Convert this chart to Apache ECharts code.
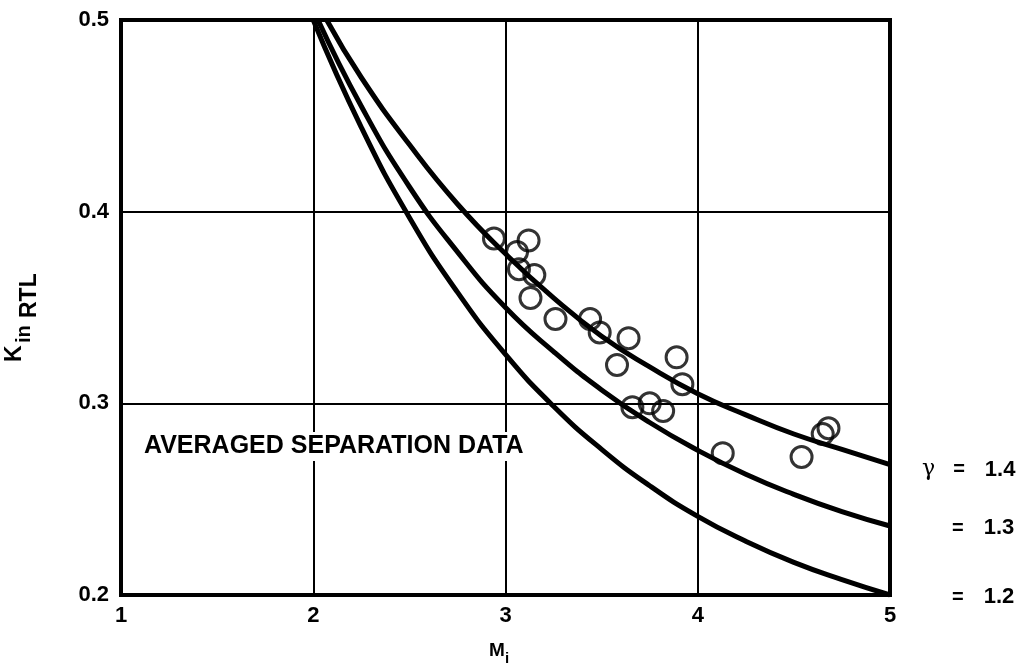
<!DOCTYPE html>
<html>
<head>
<meta charset="utf-8">
<script src="https://cdn.jsdelivr.net/npm/echarts@6/dist/echarts.min.js"></script>
<style>
  html, body { margin: 0; background: #fff; }
  #chart { width: 1022px; height: 672px; }
</style>
</head>
<body>
<div id="chart"></div>
<script>
// curves K_in_RTL vs M_i, one per gamma
const gamma14Mach = [2.07, 2.25, 2.5, 2.75, 3.0, 3.25, 3.5, 3.75, 4.0, 4.25, 4.5, 4.75, 5.0];
const gamma14K = [0.5, 0.47, 0.435, 0.404, 0.378, 0.355, 0.335, 0.319, 0.305, 0.294, 0.284, 0.276, 0.268];
const gamma13Mach = [2.025, 2.25, 2.5, 2.75, 3.0, 3.25, 3.5, 3.75, 4.0, 4.25, 4.5, 4.75, 5.0];
const gamma13K = [0.5, 0.455, 0.413, 0.379, 0.35, 0.327, 0.307, 0.29, 0.2755, 0.263, 0.2525, 0.2435, 0.236];
const gamma12Mach = [2.0, 2.25, 2.5, 2.75, 3.0, 3.25, 3.5, 3.75, 4.0, 4.25, 4.5, 4.75, 5.0];
const gamma12K = [0.5, 0.444, 0.397, 0.358, 0.3255, 0.2985, 0.276, 0.257, 0.241, 0.228, 0.217, 0.208, 0.2];

// averaged separation data (circles)
const sepMach = [2.94, 3.12, 3.06, 3.07, 3.15, 3.13, 3.26, 3.44, 3.49, 3.64, 3.58, 3.89, 3.92, 3.66, 3.75, 3.82, 4.13, 4.54, 4.65, 4.68];
const sepK = [0.386, 0.385, 0.379, 0.370, 0.367, 0.355, 0.344, 0.344, 0.337, 0.334, 0.320, 0.324, 0.310, 0.298, 0.300, 0.296, 0.274, 0.272, 0.284, 0.287];

const gammaLabels = ['1.4', '1.3', '1.2'];

const zip = (xs, ys) => xs.map((x, i) => [x, ys[i]]);
const font = '"Liberation Sans", Arial, sans-serif';

const chart = echarts.init(document.getElementById('chart'));

function curve(mach, k, label, first) {
  return {
    type: 'line',
    data: zip(mach, k),
    smooth: true,
    showSymbol: false,
    silent: true,
    lineStyle: { color: '#000', width: 5 },
    endLabel: {
      show: true,
      distance: first ? 32 : 62,
      offset: [0, first ? 5 : 2],
      formatter: first ? '{g|γ}{e|=}{v|' + label + '}' : '{e|=}{v|' + label + '}',
      rich: {
        g: { fontFamily: '"DejaVu Serif", serif', fontSize: 22, color: '#000', padding: [0, 18, 0, 0] },
        e: { fontFamily: font, fontWeight: 'bold', fontSize: 20, color: '#000', padding: [0, 20, 0, 0] },
        v: { fontFamily: font, fontWeight: 'bold', fontSize: 22, color: '#000' }
      }
    }
  };
}

const option = {
  animation: false,
  grid: {
    left: 121, right: 132, top: 20, bottom: 77,
    show: true, borderColor: '#000', borderWidth: 4
  },
  xAxis: {
    type: 'value',
    min: 1, max: 5, interval: 1,
    axisLine: { lineStyle: { color: '#000', width: 4 } },
    axisTick: { show: false },
    splitLine: { lineStyle: { color: '#000', width: 2 } },
    axisLabel: { color: '#000', fontFamily: font, fontWeight: 'bold', fontSize: 22, margin: 10 }
  },
  yAxis: {
    type: 'value',
    min: 0.2, max: 0.5, interval: 0.1,
    axisLine: { show: true, lineStyle: { color: '#000', width: 4 } },
    axisTick: { show: false },
    splitLine: { lineStyle: { color: '#000', width: 2 } },
    axisLabel: {
      color: '#000', fontFamily: font, fontWeight: 'bold', fontSize: 22, margin: 12,
      formatter: (v) => v.toFixed(1)
    }
  },
  graphic: [
    {
      type: 'text', left: 142, top: 432, z: 5,
      style: {
        text: 'AVERAGED SEPARATION DATA',
        font: 'bold 25px ' + font, fill: '#000',
        backgroundColor: '#fff', padding: [2, 2]
      }
    },
    {
      type: 'group', x: 26, y: 362, rotation: Math.PI / 2,
      children: [
        { type: 'text', x: 0, y: 0, style: { text: 'K', font: 'bold 23px ' + font, fill: '#000', textVerticalAlign: 'bottom' } },
        { type: 'text', x: 19, y: 8, style: { text: 'in', font: 'bold 20px ' + font, fill: '#000', textVerticalAlign: 'bottom' } },
        { type: 'text', x: 44, y: 15, style: { text: 'RTL', font: 'bold 23px ' + font, fill: '#000', textVerticalAlign: 'bottom' } }
      ]
    },
    {
      type: 'group', x: 489, y: 660,
      children: [
        { type: 'text', x: 0, y: 0, style: { text: 'M', font: 'bold 19px ' + font, fill: '#000', textVerticalAlign: 'bottom' } },
        { type: 'text', x: 16, y: 6, style: { text: 'i', font: 'bold 15px ' + font, fill: '#000', textVerticalAlign: 'bottom' } }
      ]
    }
  ],
  series: [
    curve(gamma14Mach, gamma14K, gammaLabels[0], true),
    curve(gamma13Mach, gamma13K, gammaLabels[1], false),
    curve(gamma12Mach, gamma12K, gammaLabels[2], false),
    {
      type: 'scatter',
      data: zip(sepMach, sepK),
      symbol: 'circle',
      symbolSize: 21,
      silent: true,
      z: 4,
      itemStyle: { color: 'rgba(0,0,0,0)', borderColor: '#000', borderWidth: 3 }
    }
  ]
};

chart.setOption(option);
</script>
</body>
</html>
